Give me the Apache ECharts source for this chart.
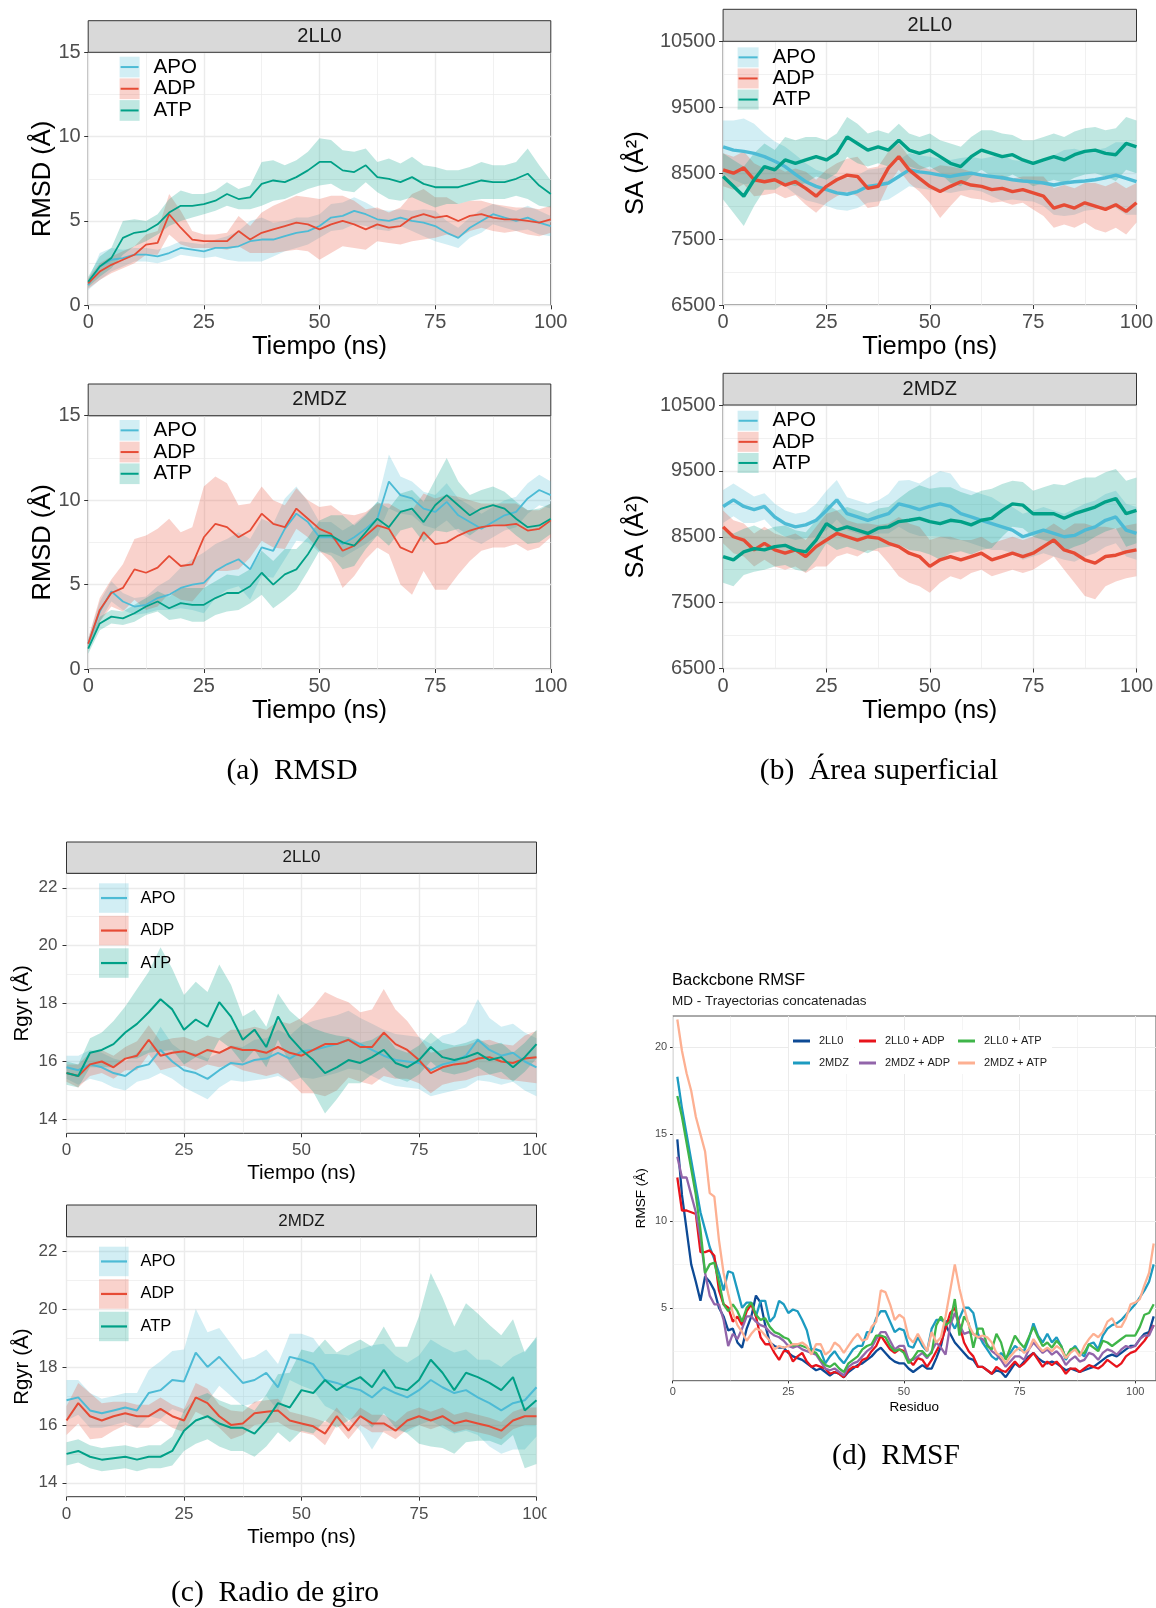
<!DOCTYPE html>
<html>
<head>
<meta charset="utf-8">
<title>RMSD, SA, Rgyr y RMSF</title>
<script src="https://cdn.jsdelivr.net/npm/echarts@6/dist/echarts.min.js"></script>
<style>
html, body { margin: 0; padding: 0; background: #fff; }
#main { width: 1156px; height: 1608px; }
</style>
</head>
<body>
<div id="main"></div>
<script>
// tiempo (ns), un punto cada 2.5 ns
var time = [0,2.5,5,7.5,10,12.5,15,17.5,20,22.5,25,27.5,30,32.5,35,37.5,40,42.5,45,47.5,50,52.5,55,57.5,60,62.5,65,67.5,70,72.5,75,77.5,80,82.5,85,87.5,90,92.5,95,97.5,100];

// (a) RMSD (Å): media y desviación
var rmsd2LL0_APO = [1.2,2.3,2.7,2.8,3.0,3.0,2.9,3.1,3.4,3.3, 3.2,3.4,3.4,3.5,3.8,3.9,3.9,4.1,4.3,4.4, 4.7,5.2,5.3,5.6,5.4,5.1,5.0,5.2,5.0,4.9, 4.7,4.3,4.0,4.6,5.0,5.4,5.2,5.0,5.2,4.9, 4.7];
var rmsd2LL0_APO_sd = [0.3,0.8,0.7,0.5,0.4,0.4,0.4,0.4,0.4,0.4, 0.4,0.5,0.7,0.9,1.2,1.3,1.0,0.9,0.9,0.8, 0.7,0.8,0.8,0.8,0.7,0.6,0.6,0.5,0.6,0.8, 0.9,0.7,0.6,0.6,0.7,0.6,0.6,0.6,0.7,0.7, 0.6];
var rmsd2LL0_ADP = [1.3,2.0,2.4,2.7,3.0,3.6,3.7,5.4,4.6,3.9, 3.8,3.8,3.8,4.4,3.9,4.3,4.5,4.7,4.9,4.8, 4.5,4.8,5.0,4.8,4.5,4.8,4.6,4.7,5.2,5.4, 5.2,5.3,5.0,5.3,5.4,5.2,5.1,5.1,5.0,4.9, 5.1];
var rmsd2LL0_ADP_sd = [0.3,0.5,0.5,0.5,0.5,0.6,0.7,1.2,1.0,0.5, 0.4,0.4,0.5,0.9,0.8,1.2,1.4,1.5,1.6,1.6, 1.8,1.7,1.5,1.4,1.2,1.0,0.9,1.1,1.4,1.5, 1.2,1.1,1.0,0.9,0.8,0.8,0.8,0.7,0.8,0.8, 0.8];
var rmsd2LL0_ATP = [1.4,2.3,2.8,4.0,4.3,4.4,4.8,5.5,5.9,5.9, 6.0,6.2,6.6,6.3,6.4,7.2,7.4,7.3,7.6,8.0, 8.5,8.5,8.0,7.9,8.3,7.6,7.5,7.3,7.6,7.2, 7.0,7.0,7.0,7.2,7.4,7.3,7.3,7.5,7.8,7.1, 6.6];
var rmsd2LL0_ATP_sd = [0.3,0.6,0.6,1.0,0.8,0.6,0.6,0.8,0.9,0.7, 0.6,0.6,0.7,0.6,0.7,1.3,1.2,1.0,1.0,1.1, 1.4,1.3,1.2,1.2,1.0,0.9,1.2,1.1,1.2,1.1, 1.2,1.0,1.0,1.0,1.1,1.0,1.0,1.0,1.5,1.2, 0.8];

var rmsd2MDZ_APO = [1.5,3.4,4.6,4.0,3.7,3.8,4.2,4.4,4.8,5.0, 5.1,5.8,6.2,6.5,5.9,7.2,7.0,8.3,9.2,8.7, 7.8,7.8,7.4,7.8,8.3,8.9,11.1,10.3,10.1,9.5, 9.3,9.9,9.1,8.7,8.3,8.7,9.1,9.3,10.1,10.6, 10.3];
var rmsd2MDZ_APO_sd = [0.3,0.6,0.6,0.5,0.5,0.5,0.7,0.9,1.2,1.5, 1.8,1.6,1.5,1.6,1.8,1.7,1.6,1.8,1.6,1.2, 0.9,0.9,0.8,0.8,0.9,1.0,1.6,1.1,1.0,1.0, 1.0,1.1,1.0,1.0,0.9,0.9,0.9,0.9,0.9,0.9, 0.8];
var rmsd2MDZ_ADP = [1.5,3.5,4.5,4.8,5.9,5.7,6.0,6.7,6.1,6.2, 7.8,8.6,8.4,7.8,8.2,9.2,8.6,8.4,9.5,8.9, 8.3,8.0,7.0,7.3,7.9,8.5,8.3,7.2,6.9,8.1, 7.4,7.5,7.9,8.2,8.4,8.5,8.5,8.6,8.2,8.3, 8.8];
var rmsd2MDZ_ADP_sd = [0.3,0.7,0.8,1.4,1.8,2.2,2.3,2.2,2.0,2.2, 3.0,2.8,2.6,1.9,1.6,1.6,1.4,1.3,1.2,1.1, 1.3,1.7,2.2,1.8,1.4,1.3,1.5,2.2,2.5,2.3, 2.7,2.8,2.3,1.8,1.4,1.3,1.3,1.2,1.2,1.1, 1.0];
var rmsd2MDZ_ATP = [1.2,2.7,3.1,3.0,3.3,3.7,4.0,3.6,3.9,3.8, 3.8,4.2,4.5,4.5,4.9,5.7,5.0,5.6,5.9,6.8, 7.9,7.9,7.5,7.3,8.1,8.9,8.4,9.3,9.5,8.7, 9.7,10.3,9.7,9.1,9.5,9.7,9.5,8.9,8.4,8.5, 8.9];
var rmsd2MDZ_ATP_sd = [0.3,0.4,0.4,0.4,0.5,0.5,0.6,0.7,0.9,1.0, 1.0,1.0,1.1,1.0,1.0,1.3,1.4,1.5,1.2,1.0, 0.9,1.2,1.6,1.2,1.0,1.0,1.1,1.1,1.1,1.2, 1.5,2.2,1.4,1.2,1.1,1.1,1.0,1.0,1.0,1.0, 0.9];

// (b) área superficial (Å²)
var sa2LL0_APO = [8900,8850,8830,8800,8750,8680,8600,8480,8370,8300, 8250,8200,8180,8220,8300,8320,8350,8450,8550,8520, 8500,8470,8450,8480,8500,8470,8450,8430,8400,8380, 8370,8350,8320,8350,8370,8380,8400,8430,8470,8420, 8370];
var sa2LL0_APO_sd = [400,450,500,450,350,300,300,300,280,250, 250,250,250,250,250,250,250,250,250,250, 250,250,250,250,250,250,300,350,300,300, 300,350,450,500,500,450,450,450,500,550, 500];
var sa2LL0_ADP = [8550,8500,8580,8400,8370,8400,8320,8370,8270,8150, 8300,8400,8470,8450,8270,8300,8580,8750,8550,8420, 8300,8220,8300,8370,8320,8300,8250,8270,8220,8250, 8200,8150,7970,8020,7970,8050,8000,7950,8020,7920, 8050];
var sa2LL0_ADP_sd = [250,250,250,250,200,200,200,200,250,250, 250,250,250,300,300,300,250,200,200,200, 250,400,300,200,200,200,200,200,200,200, 250,300,300,300,300,300,350,350,350,350, 300];
var sa2LL0_ATP = [8450,8300,8150,8400,8600,8550,8700,8650,8700,8750, 8700,8800,9050,8950,8850,8900,8850,9000,8850,8800, 8850,8750,8650,8600,8750,8850,8800,8750,8780,8700, 8650,8700,8750,8700,8780,8830,8850,8800,8780,8950, 8900];
var sa2LL0_ATP_sd = [350,400,450,400,350,300,350,350,350,300, 300,300,300,300,250,250,250,250,250,250, 250,250,300,300,300,300,350,350,300,300, 350,350,350,350,350,350,350,350,400,400, 400];

var sa2MDZ_APO = [8960,9060,8960,8910,8960,8800,8700,8650,8680,8750, 8900,9060,8850,8800,8750,8800,8850,9000,8960,8910, 8960,9000,8960,8850,8800,8750,8700,8650,8600,8500, 8550,8600,8550,8500,8520,8600,8650,8750,8800,8600, 8550];
var sa2MDZ_APO_sd = [250,250,250,200,200,200,200,200,200,250, 300,300,250,250,250,250,300,350,400,400, 450,500,500,400,400,400,400,350,350,350, 350,350,350,350,400,400,400,400,400,400, 400];
var sa2MDZ_ADP = [8650,8500,8450,8300,8400,8300,8250,8300,8200,8350, 8450,8550,8500,8450,8500,8480,8400,8350,8250,8200, 8050,8150,8200,8150,8200,8250,8150,8200,8250,8200, 8250,8350,8450,8300,8250,8150,8100,8200,8220,8270, 8300];
var sa2MDZ_ADP_sd = [250,250,250,250,250,250,250,250,250,300, 400,350,250,250,200,200,300,450,450,450, 400,350,300,300,250,250,250,250,250,250, 250,250,250,300,450,550,550,450,400,400, 400];
var sa2MDZ_ATP = [8200,8150,8270,8320,8300,8350,8370,8300,8270,8450, 8700,8600,8650,8600,8550,8630,8650,8730,8750,8780, 8730,8700,8750,8730,8680,8750,8780,8900,9000,8980, 8850,8850,8850,8780,8850,8900,8950,9030,9080,8850, 8900];
var sa2MDZ_ATP_sd = [400,400,350,350,300,300,300,300,300,300, 300,300,300,300,300,300,300,350,450,500, 500,550,500,450,450,450,450,400,350,350, 350,400,450,500,500,500,450,450,450,500, 500];

// (c) radio de giro (Å)
var rg2LL0_APO = [15.8,15.7,15.9,15.8,15.6,15.5,15.8,15.9,16.4,16.0, 15.7,15.6,15.4,15.7,15.95,15.9,16.05,16.1,16.3,16.1, 16.35,16.4,16.5,16.6,16.75,16.6,16.4,16.2,16.05,16.0, 15.95,15.7,15.9,16.0,16.2,16.75,16.4,16.2,16.3,16.0, 15.8];
var rg2LL0_APO_sd = [0.4,0.5,0.5,0.5,0.5,0.5,0.5,0.5,0.8,0.6, 0.6,0.7,0.7,0.6,0.6,0.6,0.7,0.7,0.8,0.8, 0.9,1.0,1.0,1.0,1.0,0.9,0.9,0.9,0.9,0.9, 0.9,0.9,1.0,1.0,1.1,1.4,1.1,1.0,1.0,1.0, 1.0];
var rg2LL0_ADP = [15.6,15.5,15.9,16.0,15.8,16.1,16.2,16.75,16.2,16.3, 16.35,16.2,16.4,16.3,16.5,16.4,16.4,16.3,16.5,16.3, 16.2,16.4,16.6,16.6,16.75,16.5,16.5,17.0,16.6,16.4, 16.05,15.6,15.8,15.9,15.95,16.1,16.15,16.0,15.95,16.1, 16.15];
var rg2LL0_ADP_sd = [0.3,0.4,0.4,0.4,0.4,0.4,0.5,0.5,0.5,0.5, 0.5,0.5,0.5,0.5,0.6,0.7,0.8,0.8,0.9,1.0, 1.3,1.5,1.8,1.6,1.3,1.2,1.3,1.5,1.2,1.0, 0.8,0.7,0.6,0.6,0.6,0.6,0.6,0.6,0.6,0.8, 0.9];
var rg2LL0_ATP = [15.6,15.5,16.3,16.4,16.6,17.0,17.3,17.7,18.15,17.8, 17.1,17.45,17.2,18.05,17.55,16.75,17.1,16.5,17.55,16.85, 16.4,16.05,15.6,15.8,16.05,15.95,16.15,16.4,15.95,15.8, 16.05,16.5,16.15,16.05,16.15,16.3,16.05,16.15,15.8,16.15, 16.6];
var rg2LL0_ATP_sd = [0.4,0.4,0.5,0.6,0.8,0.9,1.2,1.4,1.8,1.4, 1.2,1.3,1.2,1.3,1.1,0.8,0.7,0.7,0.8,0.9, 1.0,1.1,1.4,1.1,0.8,0.7,0.6,0.6,0.5,0.5, 0.5,0.5,0.5,0.5,0.5,0.5,0.5,0.5,0.5,0.5, 0.5];

var rg2MDZ_APO = [16.85,16.95,16.5,16.4,16.5,16.6,16.5,17.1,17.2,17.55, 17.5,18.5,18.0,18.35,17.9,17.45,17.55,17.8,17.3,18.35, 18.25,18.1,17.55,17.45,17.3,17.2,16.95,17.3,17.1,16.95, 17.2,17.55,17.3,17.1,17.2,16.95,16.75,16.5,16.75,16.85, 17.3];
var rg2MDZ_APO_sd = [0.7,0.6,0.6,0.5,0.5,0.5,0.6,0.8,1.0,1.0, 1.1,1.5,1.2,1.0,0.9,0.8,0.8,0.8,0.8,0.8, 0.9,0.9,0.9,1.0,1.1,1.4,1.8,1.5,1.3,1.2, 1.2,1.4,1.4,1.4,1.4,1.3,1.5,1.5,1.6,1.7, 1.7];
var rg2MDZ_ADP = [16.15,16.75,16.3,16.15,16.3,16.4,16.3,16.3,16.55,16.3, 16.15,16.95,16.75,16.3,16.0,16.05,16.4,16.45,16.5,16.15, 16.05,15.95,15.7,16.3,15.8,16.3,16.05,16.05,15.8,16.15, 16.3,16.15,16.3,16.05,16.15,16.05,15.95,15.8,16.15,16.3, 16.3];
var rg2MDZ_ADP_sd = [0.5,0.7,0.8,0.6,0.5,0.4,0.4,0.4,0.4,0.4, 0.4,0.5,0.5,0.4,0.5,0.4,0.4,0.4,0.4,0.3, 0.3,0.3,0.4,0.3,0.3,0.3,0.3,0.3,0.3,0.3, 0.3,0.3,0.3,0.3,0.3,0.3,0.3,0.3,0.3,0.3, 0.3];
var rg2MDZ_ATP = [15.0,15.1,14.9,14.8,14.85,14.9,14.8,14.9,14.9,15.1, 15.8,16.15,16.3,16.05,15.9,15.9,15.7,16.15,16.75,16.6, 17.2,17.1,17.55,17.2,17.45,17.65,17.3,17.9,17.3,17.2, 17.55,18.25,17.8,17.2,17.8,17.65,17.45,17.2,17.65,16.5, 16.85];
var rg2MDZ_ATP_sd = [0.4,0.4,0.4,0.4,0.4,0.4,0.4,0.4,0.4,0.5, 0.7,0.8,0.8,0.8,0.8,0.8,0.8,0.9,1.0,1.2, 1.4,1.4,1.4,1.3,1.3,1.3,1.4,1.5,1.4,1.5, 2.2,3.0,2.6,2.2,2.4,2.2,2.0,1.9,2.0,2.0, 2.2];

// (d) RMSF del backbone por residuo
var residue = [1,2,3,4,5,6,7,8,9,10,11,12,13,14,15,16,17,18,19,20,21,22,23,24,25,26,27,28,29,30,31,32,33,34,35,36,37,38,39,40,41,42,43,44,45,46,47,48,49,50,51,52,53,54,55,56,57,58,59,60,61,62,63,64,65,66,67,68,69,70,71,72,73,74,75,76,77,78,79,80,81,82,83,84,85,86,87,88,89,90,91,92,93,94,95,96,97,98,99,100,101,102,103,104];
var rmsf2LL0 = [14.7,11.5,9.5,7.5,6.5,5.4,6.8,6.5,6.0,5.0, 4.5,3.7,3.8,3.0,2.7,3.8,4.5,5.7,5.3,4.0, 3.0,2.8,2.7,2.7,2.4,2.2,2.1,2.0,1.8,1.6, 1.4,1.5,1.3,1.1,1.3,1.2,1.0,1.3,1.5,1.7, 1.8,2.0,2.2,2.5,2.7,2.4,2.1,1.9,1.8,1.8, 1.5,1.3,1.5,1.7,1.5,1.5,2.1,2.8,4.0,3.5, 3.0,2.7,2.4,2.1,2.0,1.6,1.6,1.4,1.2,1.4, 1.3,1.0,1.4,1.8,1.6,1.9,2.2,2.4,2.1,1.9, 1.8,1.9,1.8,1.6,1.4,1.5,1.4,1.3,1.4,1.5, 1.6,1.8,2.0,2.2,2.3,2.2,2.4,2.6,2.8,2.8, 3.2,3.5,3.6,4.5];
var rmsf2MDZ = [18.3,16.5,15.0,13.5,12.0,10.5,9.5,8.5,7.8,7.0, 6.0,7.1,7.0,6.0,5.0,5.3,5.3,4.5,5.4,5.4, 4.2,4.5,5.4,5.2,4.7,4.9,4.8,4.3,3.7,2.6, 2.6,2.5,1.8,2.2,2.5,2.1,1.8,2.2,2.6,2.8, 2.8,3.6,3.6,4.4,4.8,4.8,4.2,3.6,3.8,3.7, 2.8,2.7,3.3,2.8,2.5,3.8,4.3,4.3,4.2,4.3, 3.8,4.4,5.0,5.0,4.7,3.5,3.0,2.6,2.2,2.0, 2.4,2.1,2.4,2.8,2.6,2.5,3.2,4.1,3.4,3.0, 3.5,3.0,3.3,2.8,2.0,2.5,2.8,2.4,2.2,2.9, 3.0,2.6,3.4,3.8,4.0,4.1,4.3,4.6,4.9,5.2, 5.6,6.0,6.5,7.5];
var rmsf2LL0_ADP = [12.5,10.6,10.6,10.5,10.4,8.2,8.2,8.3,8.0,6.0, 5.2,5.0,4.2,4.5,4.0,4.8,5.2,4.5,3.3,2.9, 2.9,2.4,2.0,2.5,2.5,1.9,2.2,2.4,1.9,1.6, 1.7,1.6,1.5,1.2,1.3,1.2,1.0,1.4,1.6,1.6, 2.0,2.1,2.5,2.8,3.4,3.0,2.6,2.4,2.6,2.5, 2.0,1.7,2.1,2.0,1.6,2.0,2.5,3.0,3.8,4.7, 5.0,4.0,3.0,2.5,2.2,1.6,1.6,1.4,1.2,1.6, 1.4,1.3,1.6,1.9,1.6,1.8,2.1,2.4,2.0,1.6, 1.9,1.7,1.9,1.6,1.2,1.5,1.5,1.3,1.5,1.7, 1.6,1.5,1.7,2.0,1.8,1.6,1.8,2.2,2.4,2.5, 2.8,3.1,3.5,4.0];
var rmsf2MDZ_ADP = [13.7,12.5,12.5,11.5,10.5,9.0,7.0,5.7,5.2,5.2, 4.3,2.8,3.5,3.2,3.8,4.5,4.5,4.2,4.0,3.9, 3.6,3.4,3.3,3.1,2.8,2.7,2.8,2.6,2.5,2.4, 2.3,1.9,1.5,1.4,1.5,1.3,1.1,1.6,1.8,1.9, 2.2,2.5,2.7,3.2,3.6,3.6,3.1,2.6,2.8,2.8, 2.0,2.0,2.2,2.4,2.1,2.5,3.0,2.7,2.3,4.0, 4.7,4.0,3.5,3.6,3.5,3.3,3.2,2.9,2.5,2.3, 2.0,1.6,1.9,2.2,2.2,2.0,2.6,3.0,2.7,2.4, 2.6,2.3,2.5,2.2,1.7,2.0,2.2,1.9,2.0,2.4, 2.3,2.0,2.4,2.6,2.5,2.3,2.6,2.8,2.7,2.8, 3.2,3.4,3.4,4.0];
var rmsf2LL0_ATP = [17.2,16.0,14.5,13.0,11.5,9.5,7.0,7.5,7.6,6.5, 5.2,4.8,5.2,4.8,4.2,5.0,5.3,4.6,4.3,4.4, 3.9,3.6,3.5,3.3,3.2,2.8,2.9,2.8,2.7,2.5, 2.4,2.0,1.7,1.6,1.8,1.5,1.3,1.8,2.0,2.2, 2.6,2.8,2.9,3.4,3.4,3.3,2.8,2.5,2.6,2.4, 1.8,2.1,2.5,2.5,2.2,2.4,4.0,4.5,4.0,4.2, 5.5,3.4,4.5,4.1,2.7,3.8,3.8,2.8,2.6,3.5, 3.0,2.0,2.7,3.4,3.0,2.7,3.3,3.9,3.3,2.8, 3.0,2.7,3.1,2.8,2.1,2.6,2.7,2.4,2.4,2.9, 2.7,2.5,3.1,3.0,2.8,3.0,3.2,3.4,3.4,3.4, 3.9,4.6,4.7,5.2];
var rmsf2MDZ_ATP = [21.6,19.8,18.5,17.5,16.0,15.0,14.0,11.6,11.4,8.9, 7.0,5.8,4.7,4.0,3.6,3.1,3.5,3.8,3.7,3.4, 3.1,2.6,2.8,2.7,2.8,2.9,2.9,3.0,2.8,2.3, 2.9,2.9,2.3,2.5,3.0,2.8,2.4,2.8,3.2,3.5, 3.1,3.2,3.9,4.2,6.0,5.9,5.2,4.3,4.6,4.4, 3.3,3.0,3.5,3.0,2.5,3.6,3.0,3.3,4.5,6.0, 7.5,6.1,5.0,4.0,3.5,3.3,3.4,3.3,3.0,2.4, 2.2,1.8,2.2,2.5,2.7,2.4,2.6,3.2,2.8,2.5, 2.7,2.5,2.8,2.6,2.1,2.4,2.6,2.2,2.8,3.2, 3.5,3.3,3.6,4.2,4.4,3.9,3.9,4.4,5.2,5.3, 5.5,6.3,7.0,8.7];

var FONT = 'Liberation Sans';
var lineColor = {APO: '#4DBBD5', ADP: '#E64B35', ATP: '#00A087'};
var bandColor = {APO: 'rgba(77,187,213,0.25)', ADP: 'rgba(230,75,53,0.25)', ATP: 'rgba(0,160,135,0.25)'};
var KEYS = ['APO', 'ADP', 'ATP'];

var grids = [], xAxes = [], yAxes = [], series = [], legends = [], graphics = [];

function plain(v) { return String(v); }

function bandRender(mean, sd, fill) {
  return function (params, api) {
    var pts = [], i;
    for (i = 0; i < time.length; i++) pts.push(api.coord([time[i], mean[i] + sd[i]]));
    for (i = time.length - 1; i >= 0; i--) pts.push(api.coord([time[i], mean[i] - sd[i]]));
    return {type: 'polygon', shape: {points: pts}, style: {fill: fill}};
  };
}

// ejes principal + secundario (solo rejilla menor) para un grid
function addAxes(gi, o) {
  var xi = xAxes.length, yi = yAxes.length;
  xAxes.push({
    type: 'value', gridIndex: gi, min: o.xmin, max: o.xmax, position: 'bottom',
    axisLine: {show: false},
    axisTick: {show: true, length: o.tick, lineStyle: {color: '#333333'}, customValues: o.xMajor},
    axisLabel: {customValues: o.xMajor, formatter: plain, margin: o.margin, fontSize: o.font, color: '#4d4d4d'},
    splitLine: {show: true, lineStyle: {color: '#ebebeb', width: o.gridW}},
    name: o.xName, nameLocation: 'middle', nameGap: o.xGap, nameMoveOverlap: false,
    nameTextStyle: {fontSize: o.nameFont, color: '#000'}
  });
  xAxes.push({
    type: 'value', gridIndex: gi, min: o.xmin, max: o.xmax, position: 'top',
    axisLine: {show: false}, axisTick: {show: false, customValues: o.xMinor}, axisLabel: {show: false},
    splitLine: {show: true, lineStyle: {color: '#ebebeb', width: o.gridW * 0.5}}
  });
  yAxes.push({
    type: 'value', gridIndex: gi, min: o.ymin, max: o.ymax, position: 'left',
    axisLine: {show: false},
    axisTick: {show: true, length: o.tick, lineStyle: {color: '#333333'}, customValues: o.yMajor},
    axisLabel: {customValues: o.yMajor, formatter: plain, margin: o.margin, fontSize: o.font, color: '#4d4d4d'},
    splitLine: {show: true, lineStyle: {color: '#ebebeb', width: o.gridW}},
    name: o.yName, nameLocation: 'middle', nameGap: o.yGap, nameMoveOverlap: false,
    nameTextStyle: {fontSize: o.nameFont, color: '#000'}
  });
  yAxes.push({
    type: 'value', gridIndex: gi, min: o.ymin, max: o.ymax, position: 'right',
    axisLine: {show: false}, axisTick: {show: false, customValues: o.yMinor}, axisLabel: {show: false},
    splitLine: {show: true, lineStyle: {color: '#ebebeb', width: o.gridW * 0.5}}
  });
  return [xi, yi];
}

function tsPanel(p) {
  var gi = grids.length;
  grids.push({left: p.left, top: p.top, width: p.width, height: p.height, show: true,
    backgroundColor: '#fff', borderColor: '#333333', borderWidth: 1, containLabel: false, outerBoundsMode: 'none'});
  var ax = addAxes(gi, {
    xmin: 0, xmax: 100, xMajor: [0, 25, 50, 75, 100], xMinor: [12.5, 37.5, 62.5, 87.5],
    ymin: p.ymin, ymax: p.ymax, yMajor: p.yMajor, yMinor: p.yMinor,
    tick: 4, margin: p.margin, font: p.font, nameFont: p.nameFont, gridW: 1.4,
    xName: 'Tiempo (ns)', xGap: p.xGap, yName: p.yName, yGap: p.yGap
  });
  KEYS.forEach(function (k) {
    var m = p.sets[k][0], sd = p.sets[k][1];
    series.push({
      type: 'custom', name: k + ' sd', xAxisIndex: ax[0], yAxisIndex: ax[1], coordinateSystem: 'cartesian2d',
      clip: true, silent: true, data: [[time[0], m[0]]], renderItem: bandRender(m, sd, bandColor[k])
    });
    series.push({
      type: 'line', name: k, xAxisIndex: ax[0], yAxisIndex: ax[1], color: lineColor[k],
      data: time.map(function (t, i) { return [t, m[i]]; }),
      symbol: 'none', showSymbol: false, silent: true,
      lineStyle: {color: lineColor[k], width: p.lw}
    });
  });
  // tira superior con el nombre del sistema
  graphics.push({type: 'rect', shape: {x: p.left, y: p.stripTop, width: p.width, height: p.top - p.stripTop},
    style: {fill: '#d9d9d9', stroke: '#333333', lineWidth: 1}, z: 10});
  graphics.push({type: 'text', x: p.left + p.width / 2, y: (p.stripTop + p.top) / 2, z: 11,
    style: {text: p.strip, fill: '#1a1a1a', font: p.stripFont + 'px ' + FONT, textAlign: 'center', textVerticalAlign: 'middle'}});
  // leyenda: caja del intervalo + línea de la media
  var L = p.leg;
  legends.push({
    orient: 'vertical', left: L.left, top: L.top, padding: 0, itemGap: 0, selectedMode: false,
    icon: 'rect', itemWidth: L.w, itemHeight: L.h, itemStyle: {borderWidth: 0},
    data: KEYS.map(function (k) { return {name: k, itemStyle: {color: bandColor[k], borderWidth: 0}}; }),
    textStyle: {fontSize: L.font, color: '#000', lineHeight: L.pitch, padding: [0, 0, 0, L.pad]}
  });
  legends.push({
    orient: 'vertical', left: L.lineLeft, top: L.top, padding: 0, itemGap: 0, selectedMode: false,
    icon: 'rect', itemWidth: L.lineW, itemHeight: L.lineH, itemStyle: {borderWidth: 0},
    data: KEYS.map(function (k) { return {name: k, itemStyle: {color: lineColor[k], borderWidth: 0}}; }),
    textStyle: {fontSize: L.font, color: 'rgba(0,0,0,0)', lineHeight: L.pitch}
  });
}

var legA = {left: 119.6, w: 20, h: 20.7, pitch: 21.7, pad: 9, font: 20.5, lineLeft: 120.6, lineW: 18, lineH: 2};
var legB = {left: 737.6, w: 21, h: 20, pitch: 21.1, pad: 9, font: 20.5, lineLeft: 738.6, lineW: 19, lineH: 2};
var legC = {left: 99, w: 29.6, h: 29.5, pitch: 32.5, pad: 6.8, font: 16.5, lineLeft: 101, lineW: 26, lineH: 2.2};
function withTop(l, top) { var o = {}; for (var k in l) o[k] = l[k]; o.top = top; return o; }

var aBase = {left: 88.2, width: 462.6, ymin: 0, ymax: 15, yMajor: [0, 5, 10, 15], yMinor: [2.5, 7.5, 12.5],
  yName: 'RMSD (Å)', font: 20, nameFont: 25.5, stripFont: 20, xGap: 28.7, yGap: 32, margin: 7.5, lw: 1.8};
var bBase = {left: 723.1, width: 413.4, ymin: 6500, ymax: 10500, yMajor: [6500, 7500, 8500, 9500, 10500],
  yMinor: [7000, 8000, 9000, 10000], yName: 'SA (Å²)', font: 20, nameFont: 25.5, stripFont: 20,
  xGap: 29, yGap: 74, margin: 7.5, lw: 3.4};
var cBase = {left: 66.5, width: 470, ymin: 13.52, ymax: 22.5, yMajor: [14, 16, 18, 20, 22], yMinor: [15, 17, 19, 21],
  yName: 'Rgyr (Å)', font: 17, nameFont: 20.5, stripFont: 17, xGap: 29.7, yGap: 33.7, margin: 9, lw: 2};
function panel(base, extra) { var o = {}, k; for (k in base) o[k] = base[k]; for (k in extra) o[k] = extra[k]; tsPanel(o); }

panel(aBase, {top: 52.3, height: 253, stripTop: 20.7, strip: '2LL0', leg: withTop(legA, 56.2),
  sets: {APO: [rmsd2LL0_APO, rmsd2LL0_APO_sd], ADP: [rmsd2LL0_ADP, rmsd2LL0_ADP_sd], ATP: [rmsd2LL0_ATP, rmsd2LL0_ATP_sd]}});
panel(aBase, {top: 415.7, height: 253.3, stripTop: 384, strip: '2MDZ', leg: withTop(legA, 419.5),
  sets: {APO: [rmsd2MDZ_APO, rmsd2MDZ_APO_sd], ADP: [rmsd2MDZ_ADP, rmsd2MDZ_ADP_sd], ATP: [rmsd2MDZ_ATP, rmsd2MDZ_ATP_sd]}});
panel(bBase, {top: 41.3, height: 263.7, stripTop: 9.3, strip: '2LL0', leg: withTop(legB, 46.8),
  sets: {APO: [sa2LL0_APO, sa2LL0_APO_sd], ADP: [sa2LL0_ADP, sa2LL0_ADP_sd], ATP: [sa2LL0_ATP, sa2LL0_ATP_sd]}});
panel(bBase, {top: 405, height: 263.5, stripTop: 373.3, strip: '2MDZ', leg: withTop(legB, 410.2),
  sets: {APO: [sa2MDZ_APO, sa2MDZ_APO_sd], ADP: [sa2MDZ_ADP, sa2MDZ_ADP_sd], ATP: [sa2MDZ_ATP, sa2MDZ_ATP_sd]}});
panel(cBase, {top: 873.3, height: 260, stripTop: 842, strip: '2LL0', leg: withTop(legC, 881.8),
  sets: {APO: [rg2LL0_APO, rg2LL0_APO_sd], ADP: [rg2LL0_ADP, rg2LL0_ADP_sd], ATP: [rg2LL0_ATP, rg2LL0_ATP_sd]}});
panel(cBase, {top: 1236.7, height: 260, stripTop: 1205, strip: '2MDZ', leg: withTop(legC, 1245.2),
  sets: {APO: [rg2MDZ_APO, rg2MDZ_APO_sd], ADP: [rg2MDZ_ADP, rg2MDZ_ADP_sd], ATP: [rg2MDZ_ATP, rg2MDZ_ATP_sd]}});

// (d) RMSF
var rmsfSets = [
  ['2LL0', rmsf2LL0, '#0d4a95'],
  ['2MDZ', rmsf2MDZ, '#1d9bc0'],
  ['2LL0 + ADP', rmsf2LL0_ADP, '#e8141c'],
  ['2MDZ + ADP', rmsf2MDZ_ADP, '#9265aa'],
  ['2LL0 + ATP', rmsf2LL0_ATP, '#3fb549'],
  ['2MDZ + ATP', rmsf2MDZ_ATP, '#fdb092']
];
(function () {
  var gi = grids.length;
  grids.push({left: 672.7, top: 1016, width: 483.3, height: 364.7, show: true,
    backgroundColor: '#fff', borderColor: '#555555', borderWidth: 1, containLabel: false, outerBoundsMode: 'none'});
  var ax = addAxes(gi, {
    xmin: 0, xmax: 104.5, xMajor: [0, 25, 50, 75, 100], xMinor: [12.5, 37.5, 62.5, 87.5],
    ymin: 0.8, ymax: 21.8, yMajor: [5, 10, 15, 20], yMinor: [2.5, 7.5, 12.5, 17.5],
    tick: 2.7, margin: 5.5, font: 11, nameFont: 13.5, gridW: 1,
    xName: 'Residuo', xGap: 19.5, yName: 'RMSF (Å)', yGap: 24
  });
  rmsfSets.forEach(function (s) {
    series.push({
      type: 'line', name: s[0], xAxisIndex: ax[0], yAxisIndex: ax[1], color: s[2],
      data: residue.map(function (r, i) { return [r, s[1][i]]; }),
      symbol: 'none', showSymbol: false, silent: true, lineStyle: {color: s[2], width: 2.3}
    });
  });
  var cols = [[789, ['2LL0', '2MDZ']], [855, ['2LL0 + ADP', '2MDZ + ADP']], [954, ['2LL0 + ATP', '2MDZ + ATP']]];
  cols.forEach(function (c) {
    legends.push({
      orient: 'vertical', left: c[0], top: 1030, padding: [0, 5, 0, 4], itemGap: 0, selectedMode: false,
      backgroundColor: '#fff', icon: 'rect', itemWidth: 17, itemHeight: 3, itemStyle: {borderWidth: 0},
      data: c[1], textStyle: {fontSize: 11, color: '#1a1a1a', lineHeight: 22, padding: [0, 0, 0, 4]}
    });
  });
})();

// pies de figura
var SERIF = 'Liberation Serif';
[['(a)  RMSD', 292, 771], ['(b)  Área superficial', 879, 771], ['(d)  RMSF', 896, 1456.5], ['(c)  Radio de giro', 275, 1593]]
  .forEach(function (c) {
    graphics.push({type: 'text', x: c[1], y: c[2], z: 11,
      style: {text: c[0], fill: '#000', font: '29.5px ' + SERIF, textAlign: 'center', textVerticalAlign: 'middle'}});
  });
// la figura (c) original está recortada por la derecha
graphics.push({type: 'rect', shape: {x: 546.5, y: 1138, width: 60, height: 28}, style: {fill: '#fff'}, z: 100});
graphics.push({type: 'rect', shape: {x: 546.5, y: 1501, width: 60, height: 28}, style: {fill: '#fff'}, z: 100});

var chart = echarts.init(document.getElementById('main'), null, {renderer: 'canvas'});
chart.setOption({
  backgroundColor: '#fff',
  animation: false,
  textStyle: {fontFamily: FONT},
  title: {
    left: 672, top: 971.5, padding: 0, itemGap: 4,
    text: 'Backcbone RMSF', subtext: 'MD - Trayectorias concatenadas',
    textStyle: {fontSize: 16.5, fontWeight: 'normal', color: '#000', lineHeight: 18, fontFamily: FONT},
    subtextStyle: {fontSize: 13.5, color: '#1a1a1a', lineHeight: 16, fontFamily: FONT}
  },
  grid: grids,
  xAxis: xAxes,
  yAxis: yAxes,
  legend: legends,
  series: series,
  graphic: {elements: graphics}
});
</script>
</body>
</html>
